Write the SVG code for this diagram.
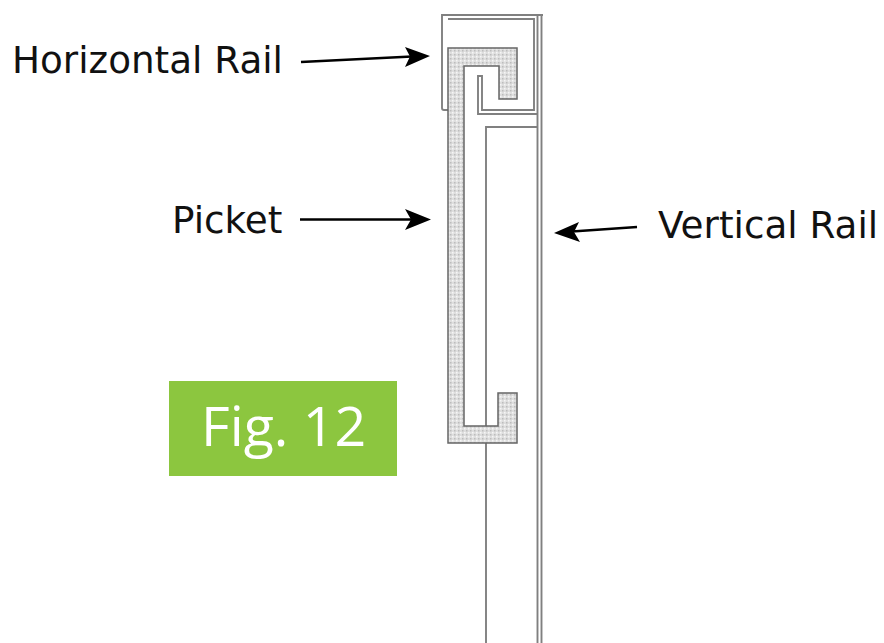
<svg xmlns="http://www.w3.org/2000/svg" width="884" height="643" viewBox="0 0 884 643">
<style>
.lbl{font-family:"DejaVu Sans",sans-serif;font-size:37.300px;fill:#111}
.ln{fill:none;stroke:#808080;stroke-width:1.900}
.arr{fill:none;stroke:#000;stroke-width:2.400}
.hd{fill:#000}
</style>
<defs>
<pattern id="hatch" width="4" height="4" patternUnits="userSpaceOnUse">
<rect width="4" height="4" fill="#dedede"/>
<rect x="0" y="0" width="1.500" height="1.500" fill="#f6f6f6"/>
<rect x="2" y="2" width="1.500" height="1.500" fill="#bcbcbc"/>
</pattern>
</defs>
<rect width="884" height="643" fill="#fff"/>
<g id="vertical-rail">
<path class="ln" d="M486 443V643M486 426V127H538M537.500 15V643M541.500 15V643"/>
</g>
<g id="horizontal-rail">
<path class="ln" d="M448 110H444Q442 110 442 108V15H543M448 19H534V110H482V76H478V114H538"/>
</g>
<g id="picket">
<path d="M448 48H517V99H499V66H464V426H498V393H517V443H448Z" fill="url(#hatch)" stroke="#666" stroke-width="1.500"/>
</g>
<g id="connectors">
<path class="arr" d="M301 62L412 56.500"/>
<path class="hd" d="M430 56L405 47L410 56.500L405 67Z"/>
<path class="arr" d="M300 219.500H412"/>
<path class="hd" d="M431 219.500L405 209L411 219.500L405 230Z"/>
<path class="arr" d="M637 227L572 231.500"/>
<path class="hd" d="M554 233L579 222L574 232L580 242Z"/>
</g>
<g id="label-horizontal"><text class="lbl" x="12" y="73">Horizontal Rail</text></g>
<g id="label-picket"><text class="lbl" x="172" y="233">Picket</text></g>
<g id="label-vertical"><text class="lbl" x="658" y="238">Vertical Rail</text></g>
<g id="fig">
<rect x="169" y="381" width="228" height="95" fill="#8cc63f"/>
<text x="201" y="446" font-family="'Open Sans',sans-serif" font-size="55.500" fill="#fff">Fig. 12</text>
</g>
</svg>
